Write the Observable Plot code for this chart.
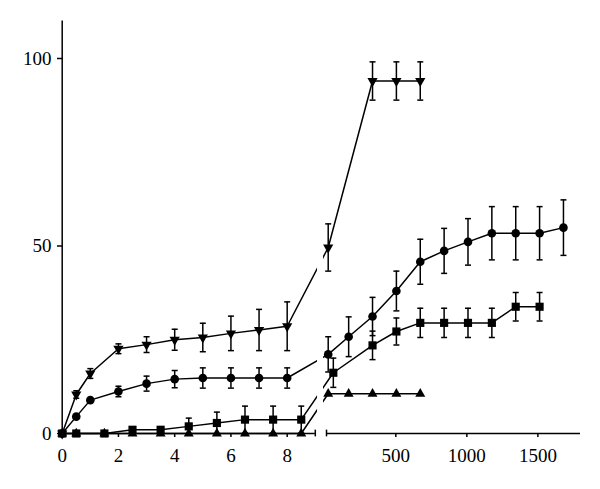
<!DOCTYPE html>
<html><head><meta charset="utf-8">
<script src="https://cdn.jsdelivr.net/npm/d3@7"></script>
<script src="https://cdn.jsdelivr.net/npm/@observablehq/plot@0.6"></script>
<style>
body{margin:0;background:#fff}
#chart svg{display:block}
#chart svg g[aria-label="x-axis tick"], #chart svg g[aria-label="y-axis tick"]{stroke-width:1.5}
</style>
</head><body><div id="chart"></div>
<script>
// ---- data (x in hours; early panel 0–9, late panel 12–1800) ----
const triDownX = [0, 0.5, 1, 2, 3, 4, 5, 6, 7, 8, 24, 336, 504, 672];
const triDownY = [0, 10.4, 16.0, 22.6, 23.7, 25.0, 25.6, 26.7, 27.6, 28.6, 49.6, 94.0, 94.0, 94.0];
const triDownE = [0, 1.0, 1.3, 1.3, 2.1, 2.8, 3.8, 4.6, 5.5, 6.5, 6.3, 5.1, 5.1, 5.1];

const circleX = [0, 0.5, 1, 2, 3, 4, 5, 6, 7, 8, 24, 168, 336, 504, 672, 840, 1008, 1176, 1344, 1512, 1680];
const circleY = [0, 4.5, 8.9, 11.2, 13.3, 14.5, 14.8, 14.8, 14.8, 14.8, 21.1, 25.8, 31.2, 38.0, 45.8, 48.7, 51.1, 53.4, 53.4, 53.4, 54.9];
const circleE = [0, 0, 0, 1.4, 2.0, 2.3, 2.7, 2.7, 2.7, 2.7, 4.7, 5.3, 5.1, 5.3, 6.0, 6.0, 6.2, 7.1, 7.1, 7.1, 7.4];

const squareX = [0, 0.5, 1.5, 2.5, 3.5, 4.5, 5.5, 6.5, 7.5, 8.5, 60, 336, 504, 672, 840, 1008, 1176, 1344, 1512];
const squareY = [0, 0, 0, 1.0, 1.0, 1.9, 2.8, 3.7, 3.7, 3.7, 16.2, 23.5, 27.2, 29.5, 29.5, 29.5, 29.5, 33.8, 33.8];
const squareE = [0, 0, 0, 0, 0, 2.2, 2.9, 3.6, 3.6, 3.6, 3.9, 3.8, 3.6, 3.9, 3.9, 3.9, 3.9, 3.8, 3.8];

const triUpX = [0, 0.5, 1.5, 2.5, 3.5, 4.5, 5.5, 6.5, 7.5, 8.5, 24, 168, 336, 504, 672];
const triUpY = [0, 0, 0, 0, 0, 0, 0, 0, 0, 0, 10.6, 10.6, 10.6, 10.6, 10.6];

const xTicks = [0, 2, 4, 6, 8, 500, 1000, 1500];
const yTicks = [0, 50, 100];

// ---- build table ----
function series(name, xs, ys, es) {
  return xs.map((x, i) => ({series: name, x, y: ys[i], err: es ? es[i] : 0}));
}
const sTriDown = series("A", triDownX, triDownY, triDownE);
const sCircle = series("B", circleX, circleY, circleE);
const sSquare = series("C", squareX, squareY, squareE);
const sTriUp = series("D", triUpX, triUpY, null);
const all = [...sTriDown, ...sCircle, ...sSquare, ...sTriUp];
const withErr = all.filter(d => d.err > 0);

// ---- custom symbols ----
const sqrt3 = Math.sqrt(3);
const triangleDown = {
  draw(context, size) {
    const y = -Math.sqrt(size / (sqrt3 * 3));
    context.moveTo(0, -y * 2);
    context.lineTo(-sqrt3 * y, y);
    context.lineTo(sqrt3 * y, y);
    context.closePath();
  }
};
const cap = {
  draw(context) { context.moveTo(-3, 0); context.lineTo(3, 0); }
};

const plot = Plot.plot({
  width: 600,
  height: 489,
  marginTop: 20,
  marginBottom: 56,
  marginLeft: 62,
  marginRight: 20,
  style: {fontFamily: "'Liberation Serif', serif", fontSize: "19px", color: "black", background: "white"},
  x: {type: "linear", domain: [0, 9, 12, 1800], range: [61.7, 314.8, 326, 580], ticks: xTicks, tickSize: 4, tickPadding: 11, tickFormat: d => String(d), label: null},
  y: {domain: [0, 110], range: [433, 20.5], ticks: yTicks, tickSize: 5, tickPadding: 6, label: null},
  marks: [
    Plot.line(all, {x: "x", y: "y", z: "series", stroke: "black", strokeWidth: 1.5}),
    Plot.rect([0], {x1: 9.6, x2: 11.2, y1: -3, y2: 110, fill: "white"}),
    Plot.ruleX([0], {y1: 0, y2: 110, stroke: "black", strokeWidth: 1.5}),
    Plot.ruleY([0], {x1: 0, x2: 9, stroke: "black", strokeWidth: 1.5}),
    Plot.ruleY([0], {x1: 12, x2: 1800, stroke: "black", strokeWidth: 1.5}),
    Plot.ruleX([9, 12], {y1: -0.9, y2: 0.9, stroke: "black", strokeWidth: 1.5}),
    Plot.ruleX(withErr, {x: "x", y1: d => d.y - d.err, y2: d => d.y + d.err, stroke: "black", strokeWidth: 1.5}),
    Plot.dot(withErr, {x: "x", y: d => d.y - d.err, symbol: cap, fill: "none", stroke: "black", strokeWidth: 1.5}),
    Plot.dot(withErr, {x: "x", y: d => d.y + d.err, symbol: cap, fill: "none", stroke: "black", strokeWidth: 1.5}),
    Plot.dot(sTriUp, {x: "x", y: "y", symbol: "triangle", r: 3.7, fill: "black", stroke: "none"}),
    Plot.dot(sSquare, {x: "x", y: "y", symbol: "square", r: 4.6, fill: "black", stroke: "none"}),
    Plot.dot(sCircle, {x: "x", y: "y", symbol: "circle", r: 4.3, fill: "black", stroke: "none"}),
    Plot.dot(sTriDown, {x: "x", y: "y", symbol: triangleDown, r: 3.8, fill: "black", stroke: "none"})
  ]
});
document.getElementById("chart").appendChild(plot);
</script>
</body></html>
